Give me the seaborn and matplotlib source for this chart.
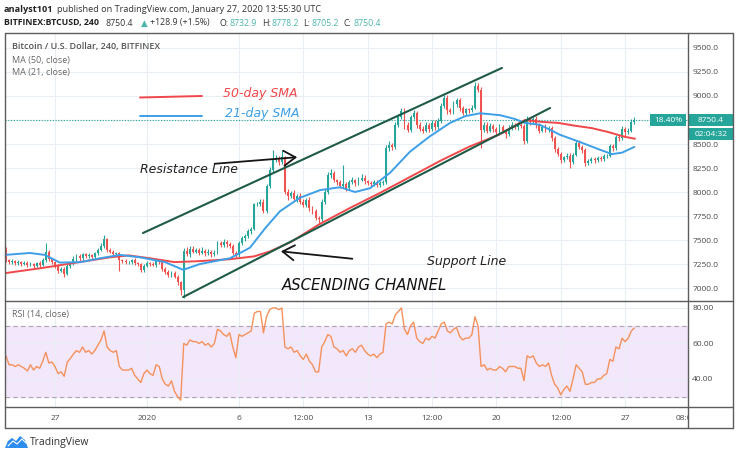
import matplotlib
matplotlib.use("Agg")
import matplotlib.pyplot as plt
from matplotlib.patches import Rectangle, Polygon
from matplotlib.lines import Line2D
import numpy as np
import pandas as pd
import seaborn as sns

# ---- data (4h candles, index 0 = Dec 24 00:00 UTC) ----
first_index = 2
first_open = 7390
closes = [
    7290, 7270, 7280, 7260,                    # Dec 24
    7270, 7250, 7265, 7240, 7255, 7230,        # Dec 25
    7260, 7240, 7290, 7380, 7300, 7270,        # Dec 26
    7230, 7180, 7200, 7150, 7230, 7250,        # Dec 27
    7300, 7330, 7310, 7350, 7330, 7340,        # Dec 28
    7320, 7360, 7400, 7440, 7510, 7400,        # Dec 29
    7380, 7350, 7360, 7290, 7280, 7270,        # Dec 30
    7270, 7290, 7260, 7250, 7190, 7230,        # Dec 31
    7260, 7250, 7240, 7280, 7270, 7200,        # Jan 1
    7170, 7140, 7160, 7120, 7060, 6980,        # Jan 2
    7390, 7350, 7410, 7380, 7400, 7370,        # Jan 3
    7390, 7360, 7380, 7350, 7370, 7470,        # Jan 4
    7450, 7480, 7460, 7440, 7370, 7340,        # Jan 5
    7470, 7520, 7540, 7590, 7620, 7870,        # Jan 6
    7880, 7900, 7800, 8060, 8230, 8330,        # Jan 7
    8350, 8310, 8360, 8000, 7960, 7990,        # Jan 8
    7930, 7960, 7900, 7860, 7920, 7830,        # Jan 9
    7800, 7730, 7720, 7900, 8000, 8180,        # Jan 10
    8200, 8120, 8100, 8060, 8080, 8040,        # Jan 11
    8100, 8120, 8090, 8130, 8150, 8110,        # Jan 12
    8090, 8080, 8100, 8070, 8090, 8100,        # Jan 13
    8460, 8490, 8470, 8700, 8780, 8840,        # Jan 14
    8700, 8650, 8780, 8820, 8700, 8660,        # Jan 15
    8640, 8700, 8660, 8720, 8680, 8740,        # Jan 16
    8900, 8980, 8850, 8830, 8920, 8960,        # Jan 17
    8870, 8820, 8860, 8850, 8880, 9100,        # Jan 18
    9060, 8650, 8700, 8640, 8690, 8660,        # Jan 19
    8620, 8680, 8640, 8600, 8670, 8700,        # Jan 20
    8680, 8700, 8690, 8530, 8760, 8730,        # Jan 21
    8760, 8700, 8640, 8680, 8650, 8670,        # Jan 22
    8560, 8450, 8400, 8330, 8360, 8380,        # Jan 23
    8310, 8390, 8510, 8470, 8440, 8300,        # Jan 24
    8320, 8340, 8330, 8350, 8340, 8370,        # Jan 25
    8380, 8480, 8460, 8570, 8560, 8660,        # Jan 26
    8620, 8640, 8732.9, 8750.4,                # Jan 27
]
upper_wick = [
    40, 15, 20, 15,
    20, 15, 20, 15, 20, 10,
    15, 20, 25, 90, 20, 15,
    15, 20, 15, 20, 20, 20,
    30, 25, 20, 20, 15, 20,
    15, 20, 20, 25, 40, 15,
    15, 20, 20, 15, 15, 20,
    15, 15, 20, 15, 15, 20,
    20, 15, 20, 15, 15, 10,
    15, 15, 20, 15, 15, 10,
    25, 40, 30, 25, 20, 20,
    40, 20, 25, 20, 30, 20,
    20, 30, 20, 15, 20, 15,
    20, 25, 20, 30, 20, 20,
    20, 30, 25, 20, 30, 110,
    40, 30, 80, 20, 30, 20,
    30, 20, 25, 30, 20, 25,
    20, 20, 20, 25, 30, 30,
    40, 20, 20, 20, 200, 25,
    20, 40, 20, 30, 40, 25,
    20, 20, 30, 20, 20, 20,
    30, 40, 20, 30, 30, 35,
    30, 30, 20, 30, 25, 30,
    25, 30, 20, 30, 25, 30,
    30, 30, 30, 20, 30, 20,
    20, 30, 20, 20, 30, 50,
    40, 30, 30, 25, 30, 20,
    20, 30, 20, 20, 30, 30,
    20, 30, 20, 20, 30, 25,
    20, 30, 20, 20, 25, 20,
    20, 20, 20, 20, 20, 25,
    30, 20, 30, 30, 20, 20,
    20, 20, 20, 20, 20, 25,
    20, 20, 25, 25, 20, 30,
    20, 25, 30, 27.8,
]
lower_wick = [
    20, 15, 20, 15,
    15, 20, 15, 25, 15, 20,
    15, 20, 15, 20, 20, 15,
    20, 20, 15, 35, 15, 20,
    15, 20, 40, 15, 20, 15,
    15, 15, 20, 15, 20, 25,
    20, 20, 15, 110, 20, 15,
    20, 15, 20, 25, 25, 20,
    15, 20, 15, 20, 20, 25,
    20, 25, 20, 20, 30, 50,
    80, 20, 25, 20, 20, 30,
    20, 30, 20, 25, 20, 20,
    20, 20, 30, 20, 30, 20,
    20, 20, 25, 20, 30, 20,
    20, 30, 20, 20, 20, 20,
    20, 30, 20, 20, 40, 20,
    20, 30, 30, 20, 20, 30,
    25, 20, 40, 20, 20, 20,
    30, 20, 30, 20, 20, 30,
    20, 20, 30, 20, 20, 30,
    20, 20, 20, 20, 20, 20,
    20, 30, 30, 20, 20, 20,
    40, 30, 20, 20, 30, 20,
    30, 20, 30, 20, 30, 20,
    20, 30, 40, 20, 20, 30,
    30, 20, 20, 30, 20, 20,
    20, 190, 30, 30, 20, 30,
    40, 20, 30, 40, 20, 20,
    20, 30, 20, 30, 20, 30,
    20, 30, 30, 20, 30, 20,
    30, 30, 30, 30, 20, 20,
    60, 20, 20, 20, 30, 30,
    20, 20, 30, 20, 20, 20,
    20, 20, 30, 20, 30, 20,
    40, 20, 20, 27.7,
]
rsi = [
    53, 48, 48, 47,
    48, 47, 46, 44.5, 48, 45,
    47, 46, 50, 55, 49, 49.5,
    47, 43, 44, 41.5, 49.5, 51.5,
    54, 56, 55, 58, 55, 56,
    54, 56, 59, 62, 67, 58,
    56, 55, 56, 47, 45, 45,
    45, 46, 42, 40, 38, 43,
    45, 43, 42, 48, 47, 40,
    37, 36, 39, 33, 30, 28,
    60, 59, 62, 61, 61, 60,
    61, 59, 60, 58, 60, 68,
    67, 65, 64, 66, 58, 52,
    65, 64, 65, 66, 67, 77,
    78, 78, 66, 75, 79, 80,
    80, 79, 80, 58, 57, 58,
    55, 56, 53, 51, 54, 50,
    48, 44, 44, 58, 61, 65,
    64, 58, 57, 55, 56, 53,
    56, 57, 55, 58, 59, 56,
    54, 53, 54, 52, 54, 55,
    71, 72, 71, 76, 78, 80,
    68, 65, 70, 72, 63, 61,
    60, 63, 62, 64, 63, 67,
    71, 72, 67, 66, 68, 69,
    64, 62, 63, 63, 65, 75,
    70, 47, 48, 45, 46, 45,
    45, 47, 46, 44, 47, 47,
    47, 46, 46, 39, 53, 52,
    53, 49, 47, 48, 47, 49,
    42, 37, 35, 31, 34, 36,
    33, 40, 48, 46, 44, 37,
    37, 38, 38, 40, 40, 42,
    43, 51, 50, 58, 57, 63,
    61, 63, 67, 68.7,
]
# moving averages (candle index, price)
ma50_idx = [1.7, 13, 26, 36, 42, 49, 57, 65, 75, 83, 88, 95, 104, 114, 124, 134, 144, 153, 163, 171.3, 176.9, 182.1, 187.7, 193.2, 198.4, 203.9, 207.2]
ma50_val = [7155, 7205, 7270, 7320, 7340, 7310, 7270, 7280, 7300, 7330, 7380, 7480, 7660, 7830, 7990, 8160, 8330, 8470, 8600, 8750, 8730, 8720, 8690, 8665, 8625, 8575, 8555]
ma21_idx = [1.7, 9.8, 14.7, 19.6, 26.2, 32.7, 39.2, 45.7, 53.9, 59.8, 65.3, 75.1, 81.6, 86.5, 91.4, 97.9, 104.5, 111, 115.9, 120.8, 127.3, 133.8, 140.3, 146.9, 151.8, 156.7, 163.2, 168.1, 171.3, 176.2, 182.8, 189.3, 195.8, 199.7, 203, 207]
ma21_val = [7345, 7365, 7345, 7265, 7270, 7310, 7345, 7320, 7270, 7190, 7250, 7310, 7420, 7620, 7800, 7940, 8020, 8050, 8000, 8040, 8200, 8420, 8580, 8720, 8790, 8820, 8800, 8760, 8720, 8700, 8595, 8520, 8440, 8395, 8410, 8470]
# channel trend lines (candle index, price)
channel_top = ([46.7, 163.8], [7573, 9292])
channel_bottom = ([59.8, 179.5], [6906, 8875])
last_price = 8750.4
price_ticks = [7000, 7250, 7500, 7750, 8000, 8250, 8500, 8750, 9000, 9250, 9500]
rsi_ticks = [40, 60, 80]
time_idx = [18, 48, 78, 99, 120, 141, 162, 183, 204]
time_labels = ["27", "2020", "6", "12:00", "13", "12:00", "20", "12:00", "27"]

UP, DOWN = "#26a69a", "#ef5350"
TEAL = "#26a69a"
GRID = "#e9eef5"
FRAME = "#5c5c5c"
TXT = "#4a4a4a"

sns.set_theme(style="white")
plt.rcParams['font.family'] = ['Open Sans', 'DejaVu Sans']

W, H = 740, 457
fig = plt.figure(figsize=(W / 100, H / 100), dpi=100)


def fx(x):
    return x / W


def fy(y):
    return 1 - y / H


ax = fig.add_axes([fx(5), fy(301), 683 / W, 268 / H])
ax_rsi = fig.add_axes([fx(5), fy(407), 683 / W, 106 / H])

# ---- candles ----
idx = np.arange(first_index, first_index + len(closes))
opens = [first_open] + closes[:-1]
df = pd.DataFrame({"i": idx, "open": opens, "close": closes})
df["high"] = df[["open", "close"]].max(axis=1) + np.array(upper_wick)
df["low"] = df[["open", "close"]].min(axis=1) - np.array(lower_wick)
up = df["close"] >= df["open"]
for mask, col in [(up, UP), (~up, DOWN)]:
    d = df[mask]
    ax.vlines(d["i"], d["low"], d["high"], color=col, lw=0.8, zorder=3)
    body = (d["close"] - d["open"]).abs().clip(lower=6)
    ax.bar(d["i"], body, bottom=d[["open", "close"]].min(axis=1),
           width=0.62, color=col, lw=0, zorder=4)

sns.lineplot(x=ma50_idx, y=ma50_val, ax=ax, color="#f0474a", lw=1.4, zorder=5)
sns.lineplot(x=ma21_idx, y=ma21_val, ax=ax, color="#3d9fe8", lw=1.4, zorder=5)
ax.axhline(last_price, color=TEAL, lw=0.8, ls=(0, (1, 1.5)), zorder=2)

for xs, ys in (channel_top, channel_bottom):
    ax.plot(xs, ys, color="#1e5b47", lw=1.5, zorder=6)

arrow = dict(arrowstyle="->,head_length=0.7,head_width=0.45", color="#151515", lw=1.3)
ax.annotate("", xy=(97.9, 8365), xytext=(69.2, 8292), arrowprops=arrow, zorder=7)
ax.annotate("", xy=(90.8, 7385), xytext=(115.9, 7302), arrowprops=arrow, zorder=7)

ax.set_xlim(1.69, 224.5)
ax.set_ylim(6865, 9656)
ax.set_xticks(time_idx)
ax.yaxis.tick_right()
ax.set_yticks(price_ticks)
# the 8750 label sits under the last-price box
ax.set_yticklabels(["" if v == 8750 else f"{v:.1f}" for v in price_ticks])
ax.tick_params(axis="x", labelbottom=False, length=0)
ax.tick_params(axis="y", length=0, pad=3, labelsize=6, labelcolor=TXT)
ax.grid(True, color=GRID, lw=0.8)
ax.set_axisbelow(True)
ax.set_xlabel("")
ax.set_ylabel("")

# ---- RSI pane ----
ax_rsi.axhspan(30, 70, color="#f3e7fb", zorder=0)
for lvl in (70, 30):
    ax_rsi.axhline(lvl, color="#aaa4b0", lw=0.8, ls=(0, (4, 3)), zorder=1)
sns.lineplot(x=idx, y=rsi, ax=ax_rsi, color="#f5915b", lw=1.0, zorder=3)
ax_rsi.set_xlim(1.69, 224.5)
ax_rsi.set_ylim(24.2, 83.9)
ax_rsi.yaxis.tick_right()
ax_rsi.set_yticks(rsi_ticks)
ax_rsi.set_yticklabels([f"{v:.2f}" for v in rsi_ticks])
ax_rsi.set_xticks(time_idx)
ax_rsi.set_xticklabels(time_labels)
ax_rsi.tick_params(axis="x", length=0, pad=6, labelsize=6, labelcolor=TXT)
ax_rsi.tick_params(axis="y", length=0, pad=3, labelsize=6, labelcolor=TXT)
ax_rsi.grid(True, color=GRID, lw=0.8)
ax_rsi.set_axisbelow(True)
ax_rsi.set_xlabel("")
ax_rsi.set_ylabel("")

for a in (ax, ax_rsi):
    for s in a.spines.values():
        s.set_visible(False)

t = fig.text(fx(686), fy(418), "08:00", ha="center", va="center", fontsize=6, color=TXT)
t.set_clip_path(Rectangle((0, 0), fx(688), 1, transform=fig.transFigure))

# ---- frame ----
frame = [((5, 33), (733, 33)), ((5, 428), (733, 428)), ((5, 33), (5, 428)),
         ((733, 33), (733, 428)), ((688, 33), (688, 428)),
         ((5, 301), (733, 301)), ((5, 407), (733, 407))]
for (x0, y0), (x1, y1) in frame:
    fig.add_artist(Line2D([fx(x0), fx(x1)], [fy(y0), fy(y1)], color=FRAME, lw=1.0))

# ---- labels on the panes ----
fig.text(fx(12), fy(46), "Bitcoin / U.S. Dollar, 240, BITFINEX", fontsize=6.5,
         color="#555555", fontweight="semibold", va="center")
fig.text(fx(12), fy(60), "MA (50, close)", fontsize=6.5, color="#666666", va="center")
fig.text(fx(12), fy(73), "MA (21, close)", fontsize=6.5, color="#666666", va="center")
fig.text(fx(12), fy(315), "RSI (14, close)", fontsize=6.5, color="#666666", va="center")

fig.add_artist(Line2D([fx(140), fx(202)], [fy(97.5), fy(96)], color="#f0474a", lw=1.4))
fig.add_artist(Line2D([fx(140), fx(202)], [fy(116), fy(116)], color="#3d9fe8", lw=1.4))
ital = dict(family="DejaVu Sans", style="italic", va="center")
fig.text(fx(223), fy(94), "50-day SMA", fontsize=9, color="#f0474a", **ital)
fig.text(fx(225), fy(113), "21-day SMA", fontsize=9, color="#3d9fe8", **ital)
fig.text(fx(140), fy(170), "Resistance Line", fontsize=9, color="#222222", **ital)
fig.text(fx(427), fy(261), "Support Line", fontsize=9, color="#222222", **ital)
fig.text(fx(282), fy(286), "ASCENDING CHANNEL", fontsize=10.7, color="#111111", **ital)

# price boxes
for x0, x1, y0, y1, s in [(689, 733, 114, 126, "8750.4"), (650, 686, 114, 126, "18.40%"),
                          (689, 733, 128, 140, "02:04:32")]:
    fig.add_artist(Rectangle((fx(x0), fy(y1)), (x1 - x0) / W, (y1 - y0) / H,
                             transform=fig.transFigure, color=TEAL, lw=0))
    fig.text(fx((x0 + x1) / 2), fy((y0 + y1) / 2), s, ha="center", va="center",
             fontsize=6, color="white")

# ---- header ----
fig.text(fx(4), fy(10), "analyst101", fontsize=6.6, fontweight="bold", color="#222222", va="center")
fig.text(fx(57), fy(10), "published on TradingView.com, January 27, 2020 13:55:30 UTC",
         fontsize=6.6, color="#333333", va="center")
LT = "#4db6ac"
parts = [(4, "BITFINEX:BTCUSD, 240", "#222222", "bold"), (106, "8750.4", "#333333", "normal"),
         (141, "\u25b2", LT, "normal"), (150, "+128.9 (+1.5%)", "#333333", "normal"),
         (220, "O:", "#333333", "normal"), (229, "8732.9", LT, "normal"),
         (262, "H:", "#333333", "normal"), (271, "8778.2", LT, "normal"),
         (303, "L:", "#333333", "normal"), (311, "8705.2", LT, "normal"),
         (344, "C:", "#333333", "normal"), (353, "8750.4", LT, "normal")]
for x, s, c, w in parts:
    fig.text(fx(x), fy(23), s, fontsize=6.3, color=c, fontweight=w, va="center")

# ---- logo ----
fig.add_artist(Polygon([(fx(5), fy(448)), (fx(8), fy(441)), (fx(12), fy(438)), (fx(16), fy(441)),
                        (fx(20), fy(436)), (fx(25), fy(440)), (fx(28), fy(448))],
                       closed=True, transform=fig.transFigure, color="#2d8cf0", lw=0))
fig.add_artist(Line2D([fx(8), fx(13), fx(17), fx(22), fx(26)],
                      [fy(446), fy(441), fy(444), fy(439), fy(443)], color="white", lw=0.8))
fig.text(fx(30), fy(442), "TradingView", fontsize=7.5, color="#333333", va="center")

fig.savefig("out.png", dpi=100)
